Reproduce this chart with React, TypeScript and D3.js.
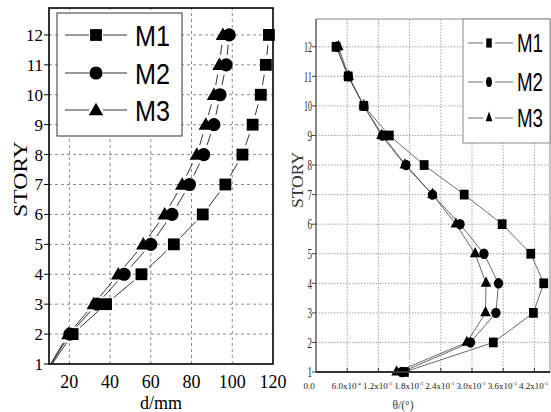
import React from 'react';
import * as d3 from 'd3';

// ---------- DATA ----------
const stories = [1, 2, 3, 4, 5, 6, 7, 8, 9, 10, 11, 12];
const seriesNames = ['M1', 'M2', 'M3'];

// Left panel: displacement d (mm)
const leftM1 = [11.5, 21.6, 38, 55.4, 71.3, 85.5, 96.6, 105, 110, 114, 116.5, 118];
const leftM2 = [11, 20.3, 33.5, 46.9, 60, 70.4, 79, 86, 91, 94, 97, 98.5];
const leftM3 = [10.8, 19.5, 32, 44, 56.3, 66.8, 75.4, 82.6, 87, 91, 93.7, 95.4];
const leftXTicks = [20, 40, 60, 80, 100, 120];
const leftYTicks = [1, 2, 3, 4, 5, 6, 7, 8, 9, 10, 11, 12];

// Right panel: inter-story drift angle θ (units of 1e-3)
const rightM1 = [1.7, 3.41, 4.18, 4.38, 4.13, 3.58, 2.85, 2.08, 1.41, 0.92, 0.62, 0.385];
const rightM2 = [1.65, 2.97, 3.46, 3.51, 3.23, 2.77, 2.24, 1.73, 1.28, 0.92, 0.62, 0.4];
const rightM3 = [1.55, 2.9, 3.26, 3.27, 3.06, 2.69, 2.24, 1.71, 1.26, 0.92, 0.63, 0.43];
const rightXTicks = [0, 0.6, 1.2, 1.8, 2.4, 3.0, 3.6, 4.2];
const rightXMantissa = ['0.0', '6.0', '1.2', '1.8', '2.4', '3.0', '3.6', '4.2'];
const rightXExp = ['', '-4', '-3', '-3', '-3', '-3', '-3', '-3'];
const rightYTicks = [1, 2, 3, 4, 5, 6, 7, 8, 9, 10, 11, 12];

const SERIF = "'Liberation Serif', 'Times New Roman', Times, 'DejaVu Serif', serif";
const SANS = "'Liberation Sans', Arial, sans-serif";

type Pt = [number, number];

function gapSegments(pts: Pt[], hasMarker: boolean[], gap: number) {
  const segs: number[][] = [];
  for (let i = 0; i < pts.length - 1; i++) {
    const [x0, y0] = pts[i];
    const [x1, y1] = pts[i + 1];
    const dx = x1 - x0, dy = y1 - y0;
    const L = Math.hypot(dx, dy);
    const g0 = hasMarker[i] ? gap : 0;
    const g1 = hasMarker[i + 1] ? gap : 0;
    if (L <= g0 + g1 + 1) continue;
    const ux = dx / L, uy = dy / L;
    segs.push([x0 + ux * g0, y0 + uy * g0, x1 - ux * g1, y1 - uy * g1]);
  }
  return segs;
}

const symbolTypes = [d3.symbolSquare, d3.symbolCircle, d3.symbolTriangle];

function LeftPanel() {
  const x = d3.scaleLinear().domain([10, 120]).range([49, 273]);
  const y = d3.scaleLinear().domain([1, 12.9]).range([364, 8]);
  const data = [leftM1, leftM2, leftM3];
  const sizes = [140, 135, 90];
  const [x0, x1] = x.range();
  const [yb, yt] = y.range();
  return (
    <g>
      {/* grid */}
      {leftXTicks.filter((t) => t < 120).map((t) => (
        <line key={'gx' + t} x1={x(t)} x2={x(t)} y1={yb} y2={yt} stroke="#8a8a8a" strokeWidth={1} strokeDasharray="3,3" />
      ))}
      {leftYTicks.filter((t) => t > 1).map((t) => (
        <line key={'gy' + t} x1={x0} x2={x1} y1={y(t)} y2={y(t)} stroke="#8a8a8a" strokeWidth={1} strokeDasharray="3,3" />
      ))}
      {/* y ticks */}
      {leftYTicks.map((t) => (
        <g key={'ty' + t}>
          <line x1={x0 - 5} x2={x0} y1={y(t)} y2={y(t)} stroke="#000" strokeWidth={1} />
          <text x={43} y={y(t)} dy="0.35em" textAnchor="end" fontFamily={SERIF} fontSize={17} fill="#000">{t}</text>
        </g>
      ))}
      {leftXTicks.map((t) => (
        <text key={'tx' + t} x={x(t)} y={388} textAnchor="middle" fontFamily={SERIF} fontSize={18} fill="#000">{t}</text>
      ))}
      {/* series lines with gaps */}
      {data.map((vals, si) => {
        const pts: Pt[] = vals.map((v, i) => [x(v), y(stories[i])]);
        const has = stories.map((s) => s >= 2);
        return gapSegments(pts, has, 10).map((s, k) => (
          <line key={'l' + si + '-' + k} x1={s[0]} y1={s[1]} x2={s[2]} y2={s[3]} stroke="#000" strokeWidth={0.8} />
        ));
      })}
      {/* markers */}
      {data.map((vals, si) => {
        const path = d3.symbol().type(symbolTypes[si]).size(sizes[si])() as string;
        return vals.map((v, i) =>
          stories[i] >= 2 ? (
            <path key={'m' + si + '-' + i} d={path} transform={`translate(${x(v)},${y(stories[i]) + (si === 2 ? 1 : 0)})`} fill="#000" />
          ) : null
        );
      })}
      {/* frame */}
      <rect x={x0} y={yt} width={x1 - x0} height={yb - yt} fill="none" stroke="#000" strokeWidth={1.6} />
      {/* legend */}
      <rect x={57} y={13} width={125} height={123} fill="#fff" stroke="#333" strokeWidth={1} />
      {seriesNames.map((name, si) => {
        const ly = [35, 73, 110][si];
        const path = d3.symbol().type(symbolTypes[si]).size(sizes[si])() as string;
        return (
          <g key={'lg' + name}>
            <line x1={65} x2={89} y1={ly} y2={ly} stroke="#000" strokeWidth={0.8} />
            <line x1={103} x2={127} y1={ly} y2={ly} stroke="#000" strokeWidth={0.8} />
            <path d={path} transform={`translate(96,${ly + (si === 2 ? 1 : 0)})`} fill="#000" />
            <text x={135} y={ly + 10.5} fontFamily={SANS} fontSize={29} textLength={35} lengthAdjust="spacingAndGlyphs" fill="#000">{name}</text>
          </g>
        );
      })}
      {/* axis labels */}
      <text transform="translate(27,179) rotate(-90)" textAnchor="middle" fontFamily={SERIF} fontSize={18} textLength={76} lengthAdjust="spacingAndGlyphs" fill="#000">STORY</text>
      <text x={161} y={409} textAnchor="middle" fontFamily={SERIF} fontSize={18} fill="#000">d/mm</text>
    </g>
  );
}

function RightPanel() {
  const x = d3.scaleLinear().domain([0, 4.5]).range([316, 550]);
  const y = d3.scaleLinear().domain([1, 12.94]).range([372, 19]);
  const data = [rightM1, rightM2, rightM3];
  const sizes = [95, 85, 60];
  const [x0, x1] = x.range();
  const [yb, yt] = y.range();
  const line = d3.line<number>().x((v) => x(v)).y((_, i) => y(stories[i]));
  return (
    <g>
      {/* grid */}
      {rightXTicks.filter((t) => t > 0).map((t) => (
        <line key={'gx' + t} x1={x(t)} x2={x(t)} y1={yb} y2={yt} stroke="#9a9a9a" strokeWidth={0.9} strokeDasharray="1.5,1.5" />
      ))}
      {rightYTicks.filter((t) => t > 1).map((t) => (
        <line key={'gy' + t} x1={x0} x2={x1} y1={y(t)} y2={y(t)} stroke="#9a9a9a" strokeWidth={0.9} strokeDasharray="1.5,1.5" />
      ))}
      {/* series lines */}
      {data.map((vals, si) => (
        <path key={'l' + si} d={line(vals) as string} fill="none" stroke="#444" strokeWidth={0.8} />
      ))}
      {/* markers */}
      {data.map((vals, si) => {
        const path = d3.symbol().type(symbolTypes[si]).size(sizes[si])() as string;
        return vals.map((v, i) => (
          <path key={'m' + si + '-' + i} d={path} transform={`translate(${x(v)},${y(stories[i])}) scale(0.9,1)`} fill="#000" />
        ));
      })}
      {/* frame */}
      <line x1={x0} x2={x1} y1={yt} y2={yt} stroke="#888" strokeWidth={1} />
      <line x1={x1} x2={x1} y1={yt} y2={yb} stroke="#888" strokeWidth={1} />
      <line x1={x0} x2={x0} y1={yt} y2={yb} stroke="#555" strokeWidth={1.4} />
      <line x1={x0} x2={x1} y1={yb} y2={yb} stroke="#333" strokeWidth={2} />
      {/* y ticks */}
      {rightYTicks.map((t) => (
        <g key={'ty' + t}>
          <line x1={x0 - 4} x2={x0} y1={y(t)} y2={y(t)} stroke="#444" strokeWidth={1} />
          <text x={312} y={y(t)} dy="0.35em" textAnchor="end" fontFamily={SERIF} fontSize={15} textLength={t >= 10 ? 8 : 4.5} lengthAdjust="spacingAndGlyphs" fill="#222">{t}</text>
        </g>
      ))}
      {/* x ticks */}
      {rightXTicks.map((t, i) => (
        <g key={'tx' + t}>
          {t > 0 && <line x1={x(t)} x2={x(t)} y1={yb} y2={yb - 4} stroke="#333" strokeWidth={1} />}
          <text x={i === 0 ? x(t) - 7 : x(t) - 1} y={389} textAnchor="middle" fontFamily={SERIF} fontSize={9} fill="#222">
            {rightXMantissa[i]}{i > 0 ? 'x10' : ''}
            {rightXExp[i] && <tspan dy={-4} fontSize={5}>{rightXExp[i]}</tspan>}
          </text>
        </g>
      ))}
      {/* legend */}
      <rect x={463} y={yt} width={87} height={124} fill="#fff" stroke="#888" strokeWidth={1} />
      {seriesNames.map((name, si) => {
        const ly = [43, 82, 118][si];
        const path = d3.symbol().type(symbolTypes[si]).size(sizes[si] * 0.9)() as string;
        return (
          <g key={'lg' + name}>
            <line x1={468} x2={483} y1={ly} y2={ly} stroke="#444" strokeWidth={0.8} />
            <line x1={495} x2={513} y1={ly} y2={ly} stroke="#444" strokeWidth={0.8} />
            <path d={path} transform={`translate(489,${ly}) scale(0.6,1)`} fill="#000" />
            <text x={517} y={ly + 9} fontFamily={SANS} fontSize={25} textLength={26} lengthAdjust="spacingAndGlyphs" fill="#000">{name}</text>
          </g>
        );
      })}
      {/* axis labels */}
      <text transform="translate(303,180) rotate(-90)" textAnchor="middle" fontFamily={SERIF} fontSize={16} textLength={56} lengthAdjust="spacingAndGlyphs" fill="#333">STORY</text>
      <text x={403} y={409} textAnchor="middle" fontFamily={SERIF} fontSize={13} textLength={21} lengthAdjust="spacingAndGlyphs" fill="#333">θ/(°)</text>
    </g>
  );
}

export default function App() {
  return (
    <div style={{ position: 'fixed', left: 0, top: 0 }}>
      <svg width={551} height={412} viewBox="0 0 551 412" style={{ display: 'block', background: '#fff' }}>
        <rect x={0} y={0} width={551} height={412} fill="#fff" />
        <LeftPanel />
        <RightPanel />
      </svg>
    </div>
  );
}
